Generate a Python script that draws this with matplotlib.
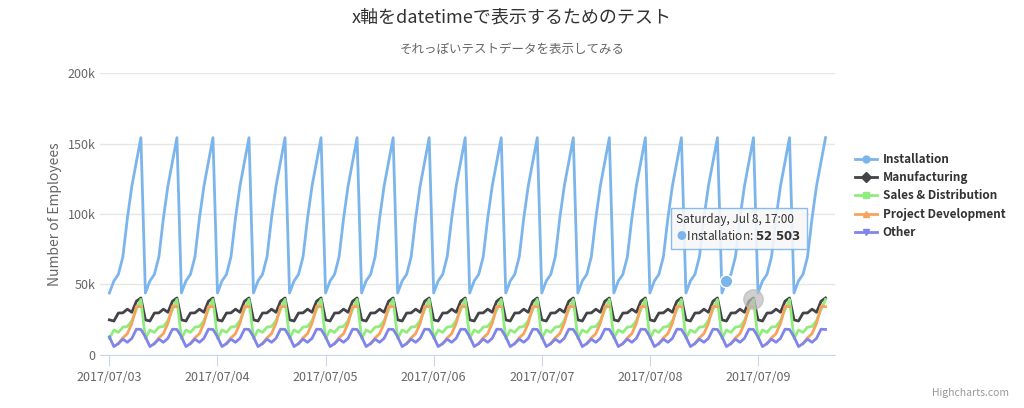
import numpy as np
import pandas as pd
import matplotlib
matplotlib.use("Agg")
import matplotlib.pyplot as plt
import matplotlib.dates as mdates
from matplotlib.ticker import FuncFormatter
from matplotlib.lines import Line2D

plt.rcParams["font.family"] = ["Noto Sans CJK JP", "DejaVu Sans"]

# one 8-hour cycle, repeated 20 times at an hourly step
installation = [43934, 52503, 57177, 69658, 97031, 119931, 137133, 154175]
manufacturing = [24916, 24064, 29742, 29851, 32490, 30282, 38121, 40434]
sales = [11744, 17722, 16005, 19771, 20185, 24377, 32147, 39387]
project = [np.nan, np.nan, 7988, 12169, 15112, 22452, 34400, 34227]
other = [12908, 5948, 8105, 11248, 8989, 11816, 18274, 18111]
n_cycles = 20
times = pd.date_range("2017-07-03 00:00", periods=8 * n_cycles, freq="h")

series = [
    ("Installation", installation, "#7cb5ec", "o"),
    ("Manufacturing", manufacturing, "#434348", "D"),
    ("Sales & Distribution", sales, "#90ed7d", "s"),
    ("Project Development", project, "#f7a35c", "^"),
    ("Other", other, "#8085e9", "v"),
]

fig = plt.figure(figsize=(10.24, 4.08), dpi=100)
ax = fig.add_axes([0.098, 0.13, 0.717, 0.691])

handles = []
for name, vals, color, mk in series:
    ax.plot(times, np.tile(vals, n_cycles), color=color, lw=2)
    handles.append(Line2D([], [], color=color, lw=2, marker=mk, markersize=5, label=name))

ax.set_ylim(0, 200000)
ax.set_xlim(pd.Timestamp("2017-07-02 22:00"), pd.Timestamp("2017-07-09 17:00"))
ax.set_yticks(range(0, 200001, 50000))
ax.yaxis.set_major_formatter(FuncFormatter(lambda v, p: "0" if v == 0 else f"{int(v/1000)}k"))
ax.xaxis.set_major_locator(mdates.DayLocator())
ax.xaxis.set_major_formatter(mdates.DateFormatter("%Y/%m/%d"))
ax.grid(axis="y", color="#e6e6e6", lw=1)
ax.set_axisbelow(True)
for s in ["top", "right", "left"]:
    ax.spines[s].set_visible(False)
ax.spines["bottom"].set_color("#ccd6eb")
ax.tick_params(axis="y", length=0, labelsize=9, colors="#666666")
ax.tick_params(axis="x", length=8, color="#ccd6eb", labelsize=9, labelcolor="#666666")
ax.set_ylabel("Number of Employees", fontsize=10, color="#666666")

fig.text(0.5, 0.945, "x軸をdatetimeで表示するためのテスト", ha="center", fontsize=13, color="#333333")
fig.text(0.5, 0.87, "それっぽいテストデータを表示してみる", ha="center", fontsize=9, color="#666666")

leg = fig.legend(handles=handles, loc="center left", bbox_to_anchor=(0.825, 0.52),
                 frameon=False, fontsize=8.5, handlelength=1.8, handletextpad=0.5,
                 labelspacing=0.45)
for t in leg.get_texts():
    t.set_fontweight("bold")
    t.set_color("#333333")

# hover state
tip_t = pd.Timestamp("2017-07-08 17:00")
ax.plot([tip_t], [52503], "o", color="#7cb5ec", markersize=9, mec="white", mew=1)
ax.plot([pd.Timestamp("2017-07-08 23:00")], [40000], "o", color="#bbbbbb", markersize=14, alpha=0.7)
ax.annotate("Saturday, Jul 8, 17:00\n    Installation: $\\bf{52\\ 503}$", xy=(tip_t, 60000),
            xytext=(-36, 20), textcoords="offset points", ha="left", va="bottom",
            fontsize=8.5, color="#333333",
            bbox=dict(boxstyle="square,pad=0.5", fc="#f7f7f7", ec="#7cb5ec", alpha=0.9))
ax.annotate("●", xy=(tip_t, 60000), xytext=(-36, 21), textcoords="offset points",
            ha="left", va="bottom", fontsize=7, color="#7cb5ec")

fig.text(0.985, 0.03, "Highcharts.com", ha="right", fontsize=7.5, color="#999999")
fig.savefig("out.png", dpi=100)
